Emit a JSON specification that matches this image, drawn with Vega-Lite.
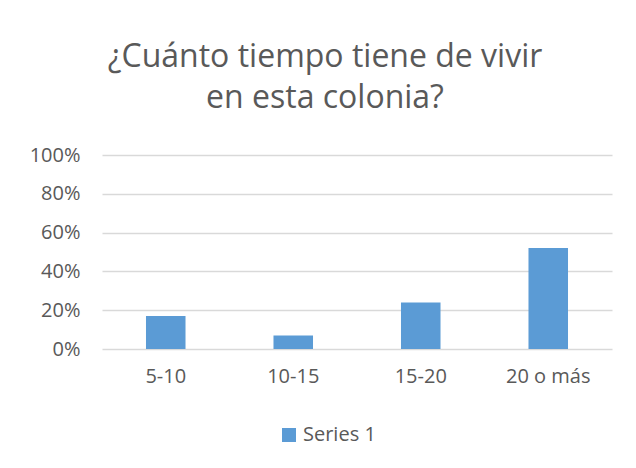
{
  "$schema": "https://vega.github.io/schema/vega-lite/v6.json",
  "autosize": {"type": "none"},
  "width": 510,
  "height": 194,
  "padding": {"left": 102, "top": 155, "right": 24, "bottom": 119},
  "background": "white",
  "title": {
    "text": ["¿Cuánto tiempo tiene de vivir", "en esta colonia?"],
    "font": "Open Sans",
    "fontSize": 32,
    "fontWeight": "normal",
    "color": "#595959",
    "anchor": "middle",
    "dx": -32,
    "offset": 30,
    "lineHeight": 41
  },
  "data": {
    "values": [
      {"categoria": "5-10", "valor": 0.17, "serie": "Series 1"},
      {"categoria": "10-15", "valor": 0.07, "serie": "Series 1"},
      {"categoria": "15-20", "valor": 0.24, "serie": "Series 1"},
      {"categoria": "20 o más", "valor": 0.52, "serie": "Series 1"}
    ]
  },
  "mark": {"type": "bar", "color": "#5B9BD5"},
  "encoding": {
    "x": {
      "field": "categoria",
      "type": "nominal",
      "sort": null,
      "scale": {"paddingInner": 0.69, "paddingOuter": 0.345},
      "axis": {
        "title": null,
        "labelAngle": 0,
        "ticks": false,
        "domain": false,
        "labelFont": "Open Sans",
        "labelFontSize": 20,
        "labelColor": "#595959",
        "labelPadding": 17
      }
    },
    "y": {
      "field": "valor",
      "type": "quantitative",
      "scale": {"domain": [0, 1]},
      "axis": {
        "title": null,
        "format": ".0%",
        "values": [0, 0.2, 0.4, 0.6, 0.8, 1],
        "ticks": false,
        "domain": false,
        "labelFont": "Open Sans",
        "labelFontSize": 20,
        "labelColor": "#595959",
        "labelPadding": 22,
        "gridColor": "#d9d9d9",
        "gridWidth": 1.5
      }
    },
    "color": {
      "field": "serie",
      "type": "nominal",
      "scale": {"range": ["#5B9BD5"]},
      "legend": {
        "title": null,
        "orient": "none",
        "legendX": 177,
        "legendY": 270,
        "symbolType": "square",
        "symbolSize": 196,
        "symbolStrokeWidth": 0,
        "labelFont": "Open Sans",
        "labelFontSize": 20,
        "labelColor": "#595959",
        "labelOffset": 4
      }
    }
  },
  "config": {"view": {"stroke": null}}
}
